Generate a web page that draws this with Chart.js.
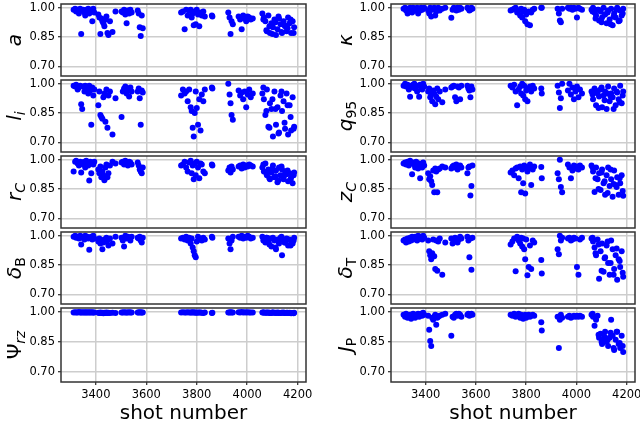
<!DOCTYPE html>
<html lang="en">
<head>
<meta charset="UTF-8">
<script src="https://cdn.jsdelivr.net/npm/chart.js"></script>
<style>
  body { margin: 0; width: 640px; height: 427px; overflow: hidden; background: #fff; position: relative; }
  canvas { position: absolute; }
</style>
<title>shot number panels</title>
</head>
<body>
<script>
// shot numbers (same shots in every panel)
const shots = [
  3312,3318,3322,3328,3333,3338,3342,3346,3350,3355,3358,3362,3366,3370,3374,3378,3382,3386,3390,3394,
  3410,3414,3418,3422,3426,3430,3434,3438,3442,3446,3450,3456,3466,3478,
  3502,3507,3512,3517,3522,3527,3532,3537,3542,
  3566,3570,3574,3578,3582,3586,
  3738,3745,3752,3758,3764,3770,3776,3780,3784,3788,3792,3796,3800,3805,3810,3815,3820,3826,3832,
  3860,3862,
  3925,3930,3934,3938,3943,
  3966,3972,3978,3984,3990,3996,4002,4008,4014,4022,
  4060,4066,4072,4078,4084,4090,4096,4102,4108,4114,4120,4126,4132,4138,4144,4150,4156,4162,4168,4174,4180,4186,
  4064,4076,4088,4100,4112,4124,4136,4148,4160,4172,4184
];

const aVals = [
  0.99,0.995,0.98,0.99,0.97,0.995,0.865,0.985,0.99,0.975,0.96,0.99,0.98,0.995,0.97,0.985,0.99,0.93,0.995,0.975,
  0.965,0.95,0.865,0.945,0.93,0.92,0.905,0.94,0.955,0.87,0.86,0.93,0.875,0.98,
  0.98,0.975,0.99,0.965,0.92,0.985,0.97,0.99,0.975,
  0.985,0.97,0.90,0.855,0.96,0.895,
  0.975,0.98,0.89,0.99,0.96,0.985,0.99,0.95,0.97,0.91,0.98,0.915,0.99,0.965,0.905,0.975,0.96,0.98,0.955,
  0.96,0.955,
  0.975,0.95,0.865,0.93,0.915,
  0.955,0.94,0.89,0.96,0.945,0.93,0.955,0.95,0.94,0.945,
  0.97,0.95,0.93,0.88,0.96,0.87,0.92,0.90,0.94,0.86,0.89,0.945,0.915,0.87,0.93,0.905,0.88,0.95,0.92,0.87,0.93,0.90,
  0.94,0.885,0.905,0.865,0.925,0.955,0.875,0.91,0.895,0.94,0.87
];

const liVals = [
  0.99,0.985,0.995,0.97,0.98,0.99,0.895,0.87,0.985,0.96,0.99,0.975,0.98,0.95,0.99,0.965,0.79,0.98,0.94,0.97,
  0.89,0.96,0.84,0.83,0.82,0.93,0.95,0.805,0.97,0.775,0.94,0.96,0.74,0.925,
  0.83,0.96,0.975,0.985,0.95,0.97,0.935,0.98,0.96,
  0.96,0.975,0.925,0.79,0.965,0.955,
  0.94,0.97,0.95,0.96,0.91,0.97,0.88,0.86,0.775,0.73,0.85,0.96,0.875,0.79,0.92,0.76,0.945,0.91,0.97,
  0.98,0.975,
  1.0,0.945,0.90,0.84,0.815,
  0.965,0.94,0.955,0.92,0.96,0.88,0.945,0.97,0.93,0.95,
  0.95,0.92,0.84,0.97,0.78,0.90,0.87,0.73,0.96,0.79,0.88,0.75,0.94,0.86,0.91,0.77,0.95,0.74,0.89,0.76,0.93,0.78,
  0.98,0.86,0.775,0.92,0.87,0.745,0.96,0.80,0.89,0.83,0.77
];

const rcVals = [
  0.94,0.99,0.995,0.98,0.97,0.99,0.935,0.985,0.975,0.99,0.96,0.995,0.98,0.97,0.893,0.99,0.93,0.985,0.975,0.99,
  0.95,0.93,0.965,0.91,0.94,0.92,0.895,0.96,0.975,0.91,0.93,0.97,0.99,0.98,
  0.985,0.99,0.975,0.995,0.98,0.97,0.99,0.985,0.975,
  0.985,0.97,0.95,0.94,0.93,0.96,
  0.97,0.975,0.99,0.96,0.94,0.985,0.995,0.93,0.97,0.90,0.98,0.92,0.99,0.96,0.905,0.98,0.975,0.94,0.93,
  0.975,0.97,
  0.945,0.96,0.935,0.965,0.95,
  0.965,0.97,0.955,0.975,0.96,0.97,0.965,0.975,0.97,0.965,
  0.96,0.94,0.98,0.92,0.95,0.90,0.935,0.97,0.91,0.945,0.885,0.96,0.92,0.95,0.90,0.94,0.925,0.89,0.93,0.91,0.88,0.935,
  0.975,0.93,0.905,0.955,0.915,0.895,0.965,0.92,0.945,0.90,0.92
];

const dbVals = [
  0.995,1.0,0.99,0.995,0.985,1.0,0.955,0.99,0.995,0.98,1.0,0.99,0.995,0.985,0.928,0.99,0.995,0.98,1.0,0.985,
  0.97,0.985,0.96,0.975,0.93,0.965,0.98,0.97,0.99,0.975,0.95,0.985,0.96,0.995,
  0.99,0.975,0.945,1.0,0.985,0.995,0.99,0.975,0.995,
  0.99,0.985,0.995,0.975,0.965,0.99,
  0.985,0.99,0.98,0.995,0.975,0.99,0.96,0.985,0.94,0.92,0.90,0.89,0.97,0.995,0.98,0.985,0.975,0.99,0.98,
  0.995,0.99,
  0.985,0.96,0.93,0.975,0.995,
  0.995,0.99,1.0,0.985,0.995,0.99,1.0,0.995,0.985,0.99,
  0.995,0.98,0.965,0.99,0.97,0.985,0.945,0.99,0.975,0.93,0.98,0.96,0.99,0.90,0.975,0.965,0.985,0.95,0.98,0.97,0.96,0.99,
  0.975,0.99,0.955,0.985,0.94,0.97,0.995,0.965,0.98,0.95,0.975
];

const psiVals = [
  0.997,0.998,0.996,0.997,0.999,0.996,0.997,0.998,0.996,0.997,0.998,0.997,0.996,0.998,0.997,0.996,0.998,0.997,0.996,0.997,
  0.995,0.994,0.996,0.994,0.995,0.993,0.995,0.994,0.996,0.994,0.995,0.994,0.995,0.994,
  0.997,0.996,0.998,0.997,0.996,0.997,0.998,0.996,0.997,
  0.997,0.996,0.998,0.997,0.996,0.997,
  0.997,0.998,0.996,0.997,0.998,0.996,0.997,0.996,0.998,0.997,0.996,0.997,0.995,0.996,0.997,0.996,0.995,0.994,0.996,
  0.994,0.995,
  0.997,0.996,0.998,0.997,0.996,
  0.998,0.997,0.999,0.997,0.998,0.996,0.998,0.997,0.996,0.997,
  0.997,0.996,0.995,0.997,0.996,0.995,0.994,0.996,0.995,0.994,0.996,0.995,0.994,0.995,0.996,0.994,0.995,0.994,0.995,0.993,0.994,0.995,
  0.996,0.995,0.994,0.996,0.995,0.994,0.995,0.994,0.995,0.994,0.993
];

const kappaVals = [
  0.995,1.0,0.985,0.97,0.995,1.0,0.99,0.975,1.0,0.995,0.985,0.99,1.0,0.97,0.995,0.985,1.0,0.99,0.995,1.0,
  0.985,0.97,1.0,0.955,0.99,0.995,1.0,0.96,0.98,0.99,1.0,0.985,0.995,1.0,
  0.948,0.99,1.0,0.995,0.985,1.0,0.99,1.0,0.995,
  1.0,0.995,0.985,0.99,1.0,0.995,
  0.985,0.99,0.995,1.0,0.975,0.985,0.96,0.995,0.95,0.98,0.99,0.93,0.965,0.915,0.98,0.91,0.975,0.99,0.995,
  1.0,1.0,
  0.995,0.97,0.935,0.925,0.995,
  1.0,0.995,1.0,0.99,1.0,0.995,0.95,1.0,0.995,0.99,
  0.99,1.0,0.975,0.96,0.99,0.935,0.98,0.95,1.0,0.965,0.92,0.985,0.94,0.995,0.91,0.97,0.95,1.0,0.93,0.985,0.96,0.995,
  0.98,0.945,0.99,0.925,0.965,0.975,0.915,0.955,0.99,0.935,0.97
];

const q95Vals = [
  0.99,1.0,0.985,0.995,0.97,0.933,0.99,0.98,0.995,1.0,0.975,0.985,0.96,0.99,0.933,0.995,0.98,0.97,1.0,0.985,
  0.96,0.975,0.93,0.945,0.91,0.965,0.95,0.895,0.935,0.975,0.92,0.96,0.905,0.97,
  0.98,0.985,0.99,0.93,0.91,0.985,0.98,0.92,0.99,
  0.99,0.975,0.965,0.93,0.985,0.97,
  0.99,0.98,0.995,0.96,0.89,0.97,0.985,0.95,1.0,0.94,0.99,0.92,0.965,0.91,0.975,0.985,0.96,0.99,0.975,
  0.975,0.95,
  0.99,0.955,0.875,0.925,1.0,
  0.965,1.0,0.945,0.98,0.92,0.96,0.985,0.93,0.97,0.95,
  0.96,0.92,0.975,0.89,0.95,0.935,0.97,0.88,0.94,0.96,0.87,0.985,0.91,0.95,0.93,0.975,0.89,0.955,0.92,0.99,0.90,0.96,
  0.945,0.965,0.875,0.98,0.915,0.95,0.935,0.87,0.96,0.905,0.94
];

const zcVals = [
  0.98,0.985,0.975,0.99,0.97,0.995,0.98,0.925,0.985,0.975,0.96,0.99,0.97,0.955,0.98,0.905,0.975,0.96,0.985,0.97,
  0.93,0.90,0.915,0.89,0.87,0.945,0.833,0.955,0.94,0.833,0.95,0.955,0.965,0.96,
  0.955,0.965,0.97,0.96,0.975,0.95,0.965,0.97,0.96,
  0.93,0.96,0.965,0.817,0.866,0.97,
  0.935,0.945,0.92,0.955,0.96,0.905,0.965,0.833,0.95,0.88,0.97,0.827,0.96,0.94,0.955,0.975,0.87,0.95,0.965,
  0.962,0.905,
  0.93,0.90,1.0,0.86,0.833,
  0.975,0.96,0.905,0.945,0.97,0.955,0.965,0.95,0.97,0.96,
  0.97,0.94,0.835,0.96,0.90,0.93,0.845,0.95,0.88,0.82,0.92,0.96,0.865,0.90,0.81,0.945,0.87,0.91,0.82,0.88,0.92,0.815,
  0.96,0.905,0.85,0.935,0.89,0.83,0.95,0.875,0.86,0.905,0.84
];

const dtVals = [
  0.975,0.98,0.965,0.985,0.97,0.99,0.975,0.995,0.98,0.985,0.995,0.99,0.975,1.0,0.985,0.995,0.99,0.98,1.0,0.99,
  0.975,0.92,0.90,0.88,0.91,0.98,0.895,0.83,0.975,0.82,0.97,0.985,0.80,0.965,
  0.985,0.96,0.975,0.99,0.97,0.965,0.98,0.995,0.985,
  0.995,0.975,0.89,0.985,0.826,0.99,
  0.955,0.97,0.985,0.818,0.995,0.975,0.96,0.99,0.945,0.985,0.93,0.88,0.98,0.797,0.84,0.95,0.83,0.975,0.965,
  0.875,0.807,
  0.93,0.905,1.0,0.975,0.99,
  0.985,0.99,0.975,0.98,0.99,0.985,0.84,0.80,0.98,0.99,
  0.985,0.97,0.94,0.90,0.98,0.78,0.92,0.96,0.815,0.89,0.95,0.86,0.80,0.975,0.93,0.83,0.90,0.775,0.88,0.84,0.92,0.79,
  0.99,0.91,0.955,0.82,0.885,0.97,0.86,0.80,0.935,0.87,0.81
];

const jpVals = [
  0.985,0.975,0.99,0.97,0.98,0.985,0.965,0.98,0.99,0.975,0.97,0.985,0.98,0.99,0.975,0.985,0.99,0.98,0.995,0.985,
  0.98,0.91,0.855,0.83,0.97,0.96,0.975,0.985,0.935,0.97,0.975,0.98,0.985,0.99,
  0.88,0.975,0.97,0.985,0.99,0.98,0.99,0.985,0.975,
  0.985,0.99,0.98,0.985,0.99,0.985,
  0.985,0.98,0.99,0.975,0.985,0.99,0.97,0.985,0.98,0.965,0.975,0.985,0.97,0.98,0.985,0.975,0.98,0.985,0.98,
  0.948,0.907,
  0.975,0.82,0.96,0.985,0.97,
  0.975,0.98,0.97,0.975,0.98,0.975,0.98,0.975,0.98,0.975,
  0.985,0.975,0.93,0.96,0.98,0.87,0.89,0.84,0.86,0.90,0.85,0.83,0.87,0.96,0.88,0.81,0.86,0.90,0.84,0.82,0.88,0.80,
  0.99,0.97,0.885,0.85,0.875,0.86,0.895,0.82,0.90,0.845,0.83
];

const yTicks = [0.70, 0.85, 1.00];
const xTicks = [3400, 3600, 3800, 4000, 4200];

// label pieces: [text, italic, subscript]
const panels = [
  { col: 0, row: 0, vals: aVals,     label: [['a', 1, 0]] },
  { col: 0, row: 1, vals: liVals,    label: [['l', 1, 0], ['i', 1, 1]] },
  { col: 0, row: 2, vals: rcVals,    label: [['r', 1, 0], ['C', 1, 1]] },
  { col: 0, row: 3, vals: dbVals,    label: [['δ', 1, 0], ['B', 0, 1]] },
  { col: 0, row: 4, vals: psiVals,   label: [['Ψ', 0, 0], ['rz', 1, 1]] },
  { col: 1, row: 0, vals: kappaVals, label: [['κ', 1, 0]] },
  { col: 1, row: 1, vals: q95Vals,   label: [['q', 1, 0], ['95', 0, 1]] },
  { col: 1, row: 2, vals: zcVals,    label: [['z', 1, 0], ['C', 1, 1]] },
  { col: 1, row: 3, vals: dtVals,    label: [['δ', 1, 0], ['T', 0, 1]] },
  { col: 1, row: 4, vals: jpVals,    label: [['J', 1, 0], ['P', 0, 1]] }
];

const FONT = "'DejaVu Sans', sans-serif";
const panelH = 76;

function drawLabel(ctx, parts, bx, cy) {
  ctx.save();
  ctx.translate(bx, cy);
  ctx.rotate(-Math.PI / 2);
  ctx.fillStyle = '#000';
  ctx.textBaseline = 'alphabetic';
  ctx.textAlign = 'left';
  const fnt = p => (p[1] ? 'italic ' : '') + (p[2] ? '14px ' : '20px ') + FONT;
  let total = 0;
  parts.forEach(p => { ctx.font = fnt(p); total += ctx.measureText(p[0]).width; });
  let x = -total / 2;
  parts.forEach(p => {
    ctx.font = fnt(p);
    ctx.fillText(p[0], x, p[2] ? 4 : 0);
    x += ctx.measureText(p[0]).width;
  });
  ctx.restore();
}

panels.forEach(p => {
  const bottom = p.row === 4;
  const cv = document.createElement('canvas');
  const left = p.col === 0 ? 0 : 320;
  const w = p.col === 0 ? 320 : 330;
  const top = 2 + p.row * panelH - 8;
  const h = bottom ? 427 - top : panelH + 16;
  cv.width = w; cv.height = h;
  cv.style.left = left + 'px';
  cv.style.top = top + 'px';
  cv.style.width = w + 'px';
  cv.style.height = h + 'px';
  document.body.appendChild(cv);

  const yAxisW = p.col === 0 ? 61 : 71;
  const rightPad = p.col === 0 ? 14 : 15;

  new Chart(cv, {
    type: 'scatter',
    data: {
      datasets: [{
        data: shots.map((s, i) => ({ x: s, y: p.vals[i] })),
        backgroundColor: 'rgb(0,0,255)',
        borderColor: 'rgb(0,0,255)',
        borderWidth: 0,
        pointRadius: 3,
        pointHoverRadius: 3
      }]
    },
    options: {
      responsive: false,
      animation: false,
      events: [],
      layout: { padding: { top: 8, left: 0, right: rightPad, bottom: bottom ? 0 : 8 } },
      plugins: { legend: { display: false }, tooltip: { enabled: false } },
      scales: {
        x: {
          type: 'linear',
          min: 3262, max: 4233,
          afterBuildTicks: s => { s.ticks = xTicks.map(v => ({ value: v })); },
          afterFit: s => { s.height = bottom ? h - 8 - panelH : 0; },
          border: { display: false },
          grid: { color: 'rgb(205,205,205)', lineWidth: 1.5, drawTicks: bottom, tickLength: 3, tickColor: '#000', tickWidth: 1 },
          ticks: {
            display: bottom,
            padding: 3,
            color: '#000',
            font: { family: FONT, size: 11.5 },
            maxRotation: 0,
            callback: v => String(v)
          }
        },
        y: {
          min: 0.650, max: 1.0194,
          afterBuildTicks: s => { s.ticks = yTicks.map(v => ({ value: v })); },
          afterFit: s => { s.width = yAxisW; },
          border: { display: false },
          grid: { color: 'rgb(205,205,205)', lineWidth: 1.5, drawTicks: true, tickLength: 3, tickColor: '#000', tickWidth: 1 },
          ticks: {
            padding: 3,
            color: '#000',
            font: { family: FONT, size: 11.5 },
            callback: v => v.toFixed(2)
          }
        }
      }
    },
    plugins: [{
      id: 'frame',
      afterDraw(chart) {
        const ctx = chart.ctx;
        const a = chart.chartArea;
        ctx.save();
        ctx.strokeStyle = '#333';
        ctx.lineWidth = 1.5;
        ctx.strokeRect(Math.round(a.left), Math.round(a.top),
          Math.round(a.right - a.left), Math.round(a.bottom - a.top));
        ctx.restore();
        const bx = p.col === 0 ? a.left - 40 : a.left - 39;
        drawLabel(ctx, p.label, bx, (a.top + a.bottom) / 2);
        if (bottom) {
          ctx.save();
          ctx.fillStyle = '#000';
          ctx.font = '20px ' + FONT;
          ctx.textAlign = 'center';
          ctx.textBaseline = 'alphabetic';
          ctx.fillText('shot number', (a.left + a.right) / 2, 419 - top);
          ctx.restore();
        }
      }
    }]
  });
});
</script>
</body>
</html>
